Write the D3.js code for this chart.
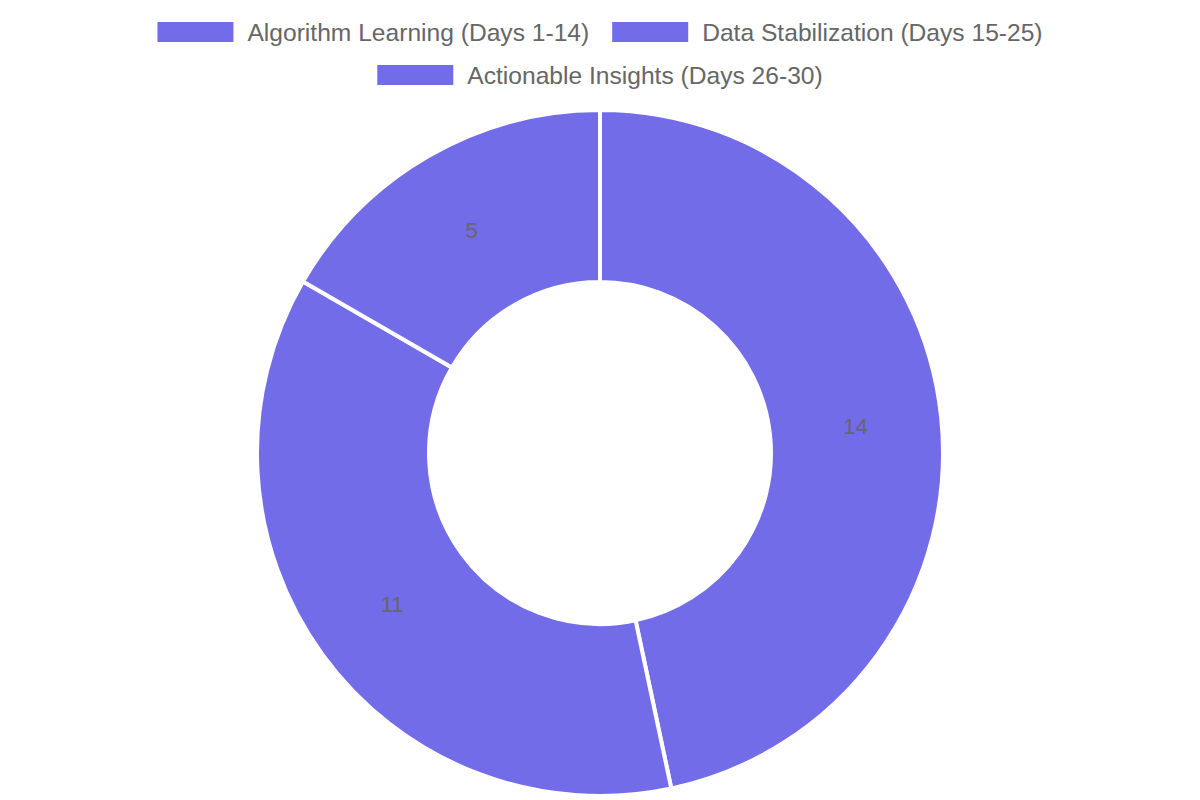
<!DOCTYPE html>
<html>
<head>
<meta charset="utf-8">
<script src="https://cdn.jsdelivr.net/npm/d3@7"></script>
<style>
	html, body { margin: 0; padding: 0; background: #fff; }
	svg { display: block; }
</style>
</head>
<body>
<div id="chart"></div>
<script>
const phases = ["Algorithm Learning (Days 1-14)", "Data Stabilization (Days 15-25)", "Actionable Insights (Days 26-30)"];
const days = [14, 11, 5];
const colors = ["#736ce9", "#736ce9", "#736ce9"];

const width = 1200, height = 800,
	cx = 600, cy = 453,
	outerR = 343, innerR = 171,
	fontFamily = "'Liberation Sans', sans-serif",
	fontSize = 24.6;

const svg = d3.select("#chart")
	.append("svg")
	.attr("width", width)
	.attr("height", height);

// legend, wrapped into centred rows
const boxW = 76, boxH = 20, boxGap = 14, itemGap = 23, rowH = 43, maxRow = 1100;
const legend = svg.append("g");

let items = phases.map((p, i) => {
	let g = legend.append("g");
	g.append("rect")
		.attr("width", boxW)
		.attr("height", boxH)
		.attr("y", -boxH / 2)
		.attr("fill", colors[i]);
	let t = g.append("text")
		.attr("x", boxW + boxGap)
		.attr("dy", "0.35em")
		.attr("font-family", fontFamily)
		.attr("font-size", fontSize)
		.attr("fill", "#666")
		.text(p);
	return { g: g, w: boxW + boxGap + t.node().getComputedTextLength() };
});

let rows = [[]], rowW = [0];
items.forEach(it => {
	let r = rows.length - 1;
	let add = (rows[r].length ? itemGap : 0) + it.w;
	if (rows[r].length && rowW[r] + add > maxRow) {
		rows.push([it]); rowW.push(it.w);
	} else {
		rows[r].push(it); rowW[r] += add;
	}
});
rows.forEach((row, r) => {
	let x = width / 2 - rowW[r] / 2;
	row.forEach(it => {
		it.g.attr("transform", `translate(${x},${32 + r * rowH})`);
		x += it.w + itemGap;
	});
});

// donut
const pie = d3.pie().sort(null).value(d => d)(days);
const arc = d3.arc().innerRadius(innerR).outerRadius(outerR);

const donut = svg.append("g").attr("transform", `translate(${cx},${cy})`);

donut.selectAll("path")
	.data(pie)
	.join("path")
	.attr("d", arc)
	.attr("fill", (d, i) => colors[i])
	.attr("stroke", "#fff")
	.attr("stroke-width", 4);

donut.selectAll("text")
	.data(pie)
	.join("text")
	.attr("transform", d => `translate(${arc.centroid(d)})`)
	.attr("text-anchor", "middle")
	.attr("dy", "0.35em")
	.attr("font-family", fontFamily)
	.attr("font-size", 22)
	.attr("fill", "#666")
	.text(d => d.data);
</script>
</body>
</html>
